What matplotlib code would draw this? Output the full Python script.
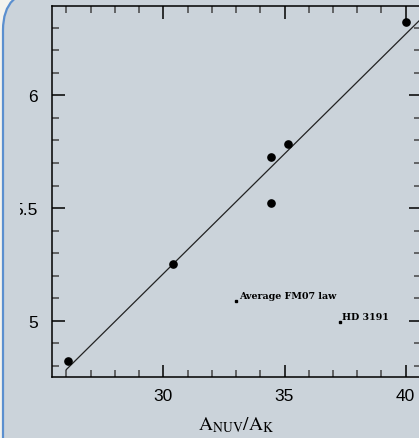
import matplotlib
matplotlib.use("Agg")
import matplotlib.pyplot as plt
from matplotlib.patches import FancyBboxPatch, Rectangle
from matplotlib.ticker import MultipleLocator
from matplotlib.transforms import IdentityTransform

plt.rcParams["mathtext.fontset"] = "stix"

# measured points
ratio_nuv_k = [26.07, 30.41, 34.43, 35.16, 34.43, 40.01]
rv_value = [4.823, 5.250, 5.728, 5.785, 5.522, 6.324]

# linear fit, end points
fit_x = [26.0, 41.0]
fit_y = [4.783, 6.379]

# labelled reference marks
label_names = ["Average FM07 law", "HD 3191"]
label_x = [32.99, 37.27]
label_y = [5.087, 4.994]

bg = "#cbd3da"
W, H = 419, 439
fig = plt.figure(figsize=(W / 100, H / 100), dpi=100)
fig.patch.set_facecolor("#f4f3ee")

# rounded panel behind the plot (pixel coords, origin bottom left)
panel = FancyBboxPatch((3, -100), 600, H + 9 + 100,
                       boxstyle="round,pad=0,rounding_size=40",
                       transform=IdentityTransform(), facecolor=bg,
                       edgecolor="#5b8fcf", lw=1.6, zorder=-5)
fig.add_artist(panel)

ax = fig.add_axes([52 / W, 1 - 378 / H, 369 / W, 371 / H])
ax.set_facecolor(bg)

ax.plot(fit_x, fit_y, color="#222222", lw=0.9)
ax.plot(ratio_nuv_k, rv_value, "o", color="black", ms=5.2)
for name, lx, ly in zip(label_names, label_x, label_y):
    ax.plot(lx, ly, "s", color="black", ms=1.6)
    ax.text(lx + 0.12, ly + 0.004, name, fontsize=6.8, fontweight="bold",
            family="DejaVu Serif", va="bottom", ha="left")

ax.set_xlim(25.41, 40.63)
ax.set_ylim(4.750, 6.397)
ax.xaxis.set_major_locator(MultipleLocator(5))
ax.xaxis.set_minor_locator(MultipleLocator(1))
ax.yaxis.set_major_locator(MultipleLocator(0.5))
ax.yaxis.set_minor_locator(MultipleLocator(0.1))
ax.yaxis.set_major_formatter(lambda v, p: f"{v:g}")

ax.tick_params(which="both", direction="in", top=True, right=True,
               width=1.1, labelsize=12.5)
ax.tick_params(which="major", length=9)
ax.tick_params(axis="x", which="major", pad=8)
ax.tick_params(axis="y", which="major", pad=10)
ax.tick_params(which="minor", length=5, color="#444444")
for lab in ax.get_xticklabels() + ax.get_yticklabels():
    lab.set_family("Liberation Sans")
for sp in ax.spines.values():
    sp.set_linewidth(1.1)

ax.set_xlabel(r"$\mathrm{A_{NUV}/A_K}$", fontsize=14, labelpad=8)

# crop cover at the left edge, hides first digit of the 5.5 label
fig.add_artist(Rectangle((5, 150), 14.5, 150, transform=IdentityTransform(),
                         facecolor=bg, edgecolor="none", zorder=10))

fig.savefig("out.png", dpi=100, facecolor=fig.get_facecolor())
